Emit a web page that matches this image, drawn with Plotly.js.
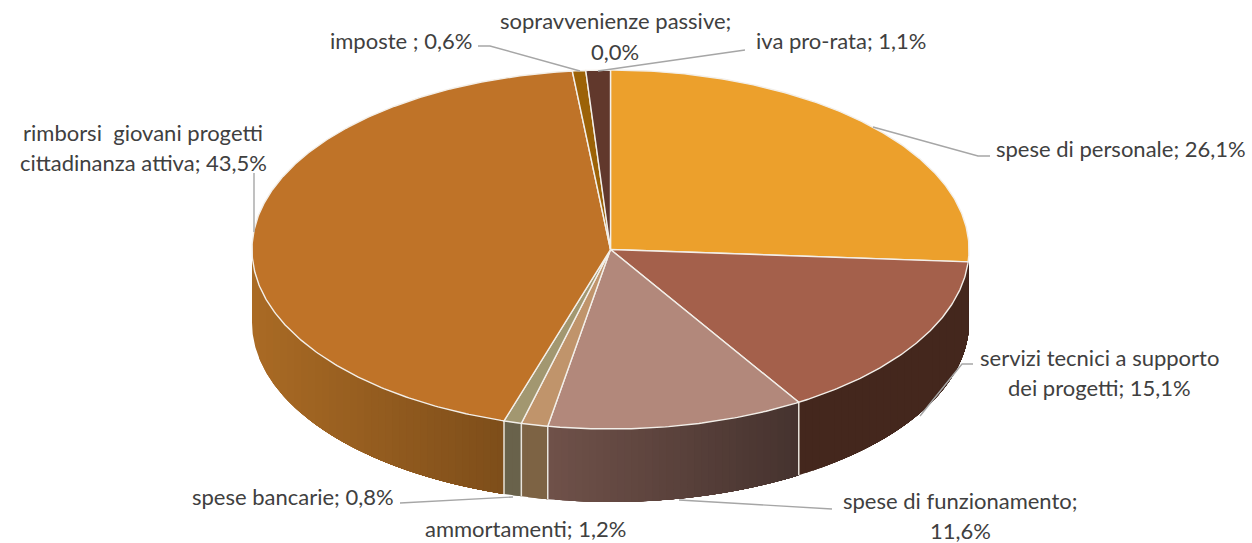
<!DOCTYPE html>
<html>
<head>
<meta charset="utf-8">
<script src="https://cdn.plot.ly/plotly-3.0.1.min.js"></script>
<style>html,body{margin:0;padding:0;background:#fff;overflow:hidden}</style>
</head>
<body>
<div id="chart" style="width:1252px;height:543px"></div>
<script>
// Slice data, clockwise from twelve o'clock
const categories = ["spese di personale", "servizi tecnici a supporto dei progetti", "spese di funzionamento", "ammortamenti", "spese bancarie", "rimborsi giovani progetti cittadinanza attiva", "imposte", "sopravvenienze passive", "iva pro-rata"];
const values = [26.1, 15.1, 11.6, 1.2, 0.8, 43.5, 0.6, 0.0, 1.1];
const topColors = ["#eca02c", "#a4604b", "#b2887b", "#c0946b", "#a29770", "#bf7328", "#9c6207", "#5e4a3a", "#61382c"];
const wallLeft = ["#a8721f", "#44271d", "#6f5149", "#7d6344", "#69624b", "#a96a24", "#7a4c08", "#4a382c", "#4c2c22"];
const wallRight = ["#a8721f", "#44271d", "#46332f", "#7d6344", "#69624b", "#7e4e1a", "#7a4c08", "#4a382c", "#4c2c22"];

// Label lines as printed in the chart
const labelLines = ["spese di personale; 26,1%", "servizi tecnici a supporto", "dei progetti; 15,1%", "spese di funzionamento;", "11,6%", "ammortamenti; 1,2%", "spese bancarie; 0,8%", "rimborsi  giovani progetti", "cittadinanza attiva; 43,5%", "imposte ; 0,6%", "sopravvenienze passive;", "0,0%", "iva pro-rata; 1,1%"];
const labelX = [995, 1099, 1099, 960, 960, 525, 293, 143, 143, 401, 615, 615, 755];
const labelY = [148, 357, 387, 500, 530, 528, 496, 132, 162, 40, 20, 51, 40];
const labelAnchor = ["left", "center", "center", "center", "center", "center", "center", "center", "center", "center", "center", "center", "left"];

// Leader lines
const leaders = [
  {x: [873, 978, 990], y: [127, 156, 156]},
  {x: [920, 962, 973], y: [416, 364, 364]},
  {x: [679, 832], y: [500, 509]},
  {x: [513, 400], y: [497, 503]},
  {x: [254, 254], y: [173, 232]},
  {x: [478, 490, 580], y: [46, 46, 71]},
  {x: [598, 745], y: [71, 50]}
];

// Projection of the tilted disc
const CX = 610.5, CY = 249.5, RX = 358.5, RY = 179.5, DEPTH = 73;
const px = t => CX + RX * Math.sin(t * Math.PI / 180);
const py = t => CY - RY * Math.cos(t * Math.PI / 180);
const tFromX = x => 180 - Math.asin((x - CX) / RX) * 180 / Math.PI;

function arc(a, b) {
  const pts = [], n = Math.max(2, Math.ceil(Math.abs(b - a) / 0.5));
  for (let i = 0; i <= n; i++) pts.push(a + (b - a) * i / n);
  return pts;
}
function mix(c1, c2, f) {
  const p = c => [1, 3, 5].map(i => parseInt(c.substr(i, 2), 16));
  const A = p(c1), B = p(c2);
  return "rgb(" + A.map((v, i) => Math.round(v + (B[i] - v) * f)).join(",") + ")";
}

const total = values.reduce((s, v) => s + v, 0);
const bounds = [0];
values.forEach(v => bounds.push(bounds[bounds.length - 1] + v / total * 360));

const traces = [];
const base = {type: "scatter", mode: "lines", fill: "toself", hoverinfo: "skip", showlegend: false};

// Side wall: left-to-right nested bands of equal pixel width, so no seams appear
values.forEach((v, i) => {
  const a = Math.max(bounds[i], 90), b = Math.min(bounds[i + 1], 270);
  if (b <= a) return;
  const xl = px(b), xr = px(a);
  const bands = Math.max(1, Math.min(40, Math.round((xr - xl) / 7)));
  for (let k = 0; k < bands; k++) {
    const end = k === 0 ? b : tFromX(xl + (xr - xl) * k / bands);
    const top = arc(a, end), bot = top.slice().reverse();
    traces.push(Object.assign({}, base, {
      x: top.map(px).concat(bot.map(px)),
      y: top.map(py).concat(bot.map(t => py(t) + DEPTH)),
      fillcolor: mix(wallLeft[i], wallRight[i], bands > 1 ? k / (bands - 1) : 0),
      line: {width: 0}
    }));
  }
});
// Edges between wall sections
bounds.forEach(t => {
  if (t > 95 && t < 270) {
    traces.push({type: "scatter", mode: "lines", hoverinfo: "skip", showlegend: false,
      x: [px(t), px(t)], y: [py(t), py(t) + DEPTH], line: {color: "#e9e5dd", width: 1.5}});
  }
});
// Top faces
values.forEach((v, i) => {
  if (v <= 0) return;
  const t = arc(bounds[i], bounds[i + 1]);
  traces.push(Object.assign({}, base, {
    x: [CX].concat(t.map(px), [CX]),
    y: [CY].concat(t.map(py), [CY]),
    fillcolor: topColors[i],
    line: {color: "#f3efe9", width: 1.4}
  }));
});
// Leaders
leaders.forEach(l => traces.push({type: "scatter", mode: "lines", hoverinfo: "skip", showlegend: false,
  x: l.x, y: l.y, line: {color: "#a6a6a6", width: 1.4}}));

const annotations = labelLines.map((text, i) => ({
  text, x: labelX[i], y: labelY[i], xref: "x", yref: "y",
  xanchor: labelAnchor[i], yanchor: "middle", showarrow: false, borderpad: 0,
  font: {family: "Lato, 'Open Sans', sans-serif", size: 22, color: "#404040"}
}));

Plotly.newPlot("chart", traces, {
  width: 1252, height: 543,
  margin: {l: 0, r: 0, t: 0, b: 0},
  paper_bgcolor: "#ffffff", plot_bgcolor: "#ffffff",
  xaxis: {range: [0, 1252], visible: false, fixedrange: true},
  yaxis: {range: [543, 0], visible: false, fixedrange: true},
  showlegend: false, annotations
}, {displayModeBar: false, staticPlot: true});
</script>
</body>
</html>
